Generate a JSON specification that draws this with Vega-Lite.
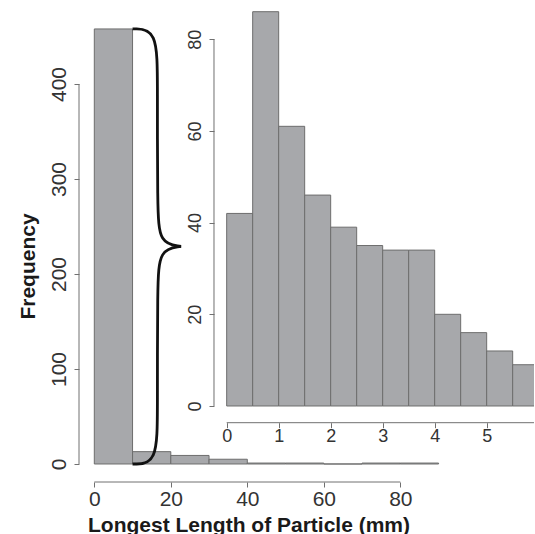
{
  "$schema": "https://vega.github.io/schema/vega-lite/v6.json",
  "padding": {"left": 17, "top": 5, "right": 0, "bottom": 0},
  "background": "white",
  "width": 455,
  "height": 477,
  "config": {
    "view": {"stroke": null},
    "font": "Liberation Sans",
    "axis": {"grid": false, "domain": false, "tickColor": "#707070", "tickSize": 5, "tickWidth": 1, "labelColor": "#333333", "titleColor": "#1a1a1a", "labelFont": "Liberation Sans", "titleFont": "Liberation Sans", "labelFlush": false, "labelOverlap": false}
  },
  "datasets": {
    "main": [
      {"lo": 0, "hi": 10, "count": 458},
      {"lo": 10, "hi": 20, "count": 13},
      {"lo": 20, "hi": 30, "count": 9},
      {"lo": 30, "hi": 40, "count": 5},
      {"lo": 40, "hi": 50, "count": 1},
      {"lo": 50, "hi": 60, "count": 1},
      {"lo": 60, "hi": 70, "count": 0},
      {"lo": 70, "hi": 80, "count": 1},
      {"lo": 80, "hi": 90, "count": 1}
    ],
    "inset": [
      {"lo": 0, "hi": 0.5, "count": 42},
      {"lo": 0.5, "hi": 1, "count": 86},
      {"lo": 1, "hi": 1.5, "count": 61},
      {"lo": 1.5, "hi": 2, "count": 46},
      {"lo": 2, "hi": 2.5, "count": 39},
      {"lo": 2.5, "hi": 3, "count": 35},
      {"lo": 3, "hi": 3.5, "count": 34},
      {"lo": 3.5, "hi": 4, "count": 34},
      {"lo": 4, "hi": 4.5, "count": 20},
      {"lo": 4.5, "hi": 5, "count": 16},
      {"lo": 5, "hi": 5.5, "count": 12},
      {"lo": 5.5, "hi": 6, "count": 9}
    ],
    "brace": [
      {"half": "upper", "i": 0, "x": 10, "y": 458},
      {"half": "upper", "i": 1, "x": 16.5, "y": 458},
      {"half": "upper", "i": 2, "x": 16.5, "y": 400},
      {"half": "upper", "i": 3, "x": 16.5, "y": 270},
      {"half": "upper", "i": 4, "x": 17, "y": 232},
      {"half": "upper", "i": 5, "x": 22.7, "y": 229},
      {"half": "lower", "i": 0, "x": 10, "y": 0},
      {"half": "lower", "i": 1, "x": 16.5, "y": 0},
      {"half": "lower", "i": 2, "x": 16.5, "y": 58},
      {"half": "lower", "i": 3, "x": 16.5, "y": 188},
      {"half": "lower", "i": 4, "x": 17, "y": 226},
      {"half": "lower", "i": 5, "x": 22.7, "y": 229}
    ]
  },
  "resolve": {
    "scale": {"x": "independent", "y": "independent"},
    "axis": {"x": "independent", "y": "independent"}
  },
  "layer": [
    {
      "layer": [
        {
          "data": {"name": "main"},
          "mark": {"type": "rect", "fill": "#a7a8ab", "stroke": "#6d6d6d", "strokeWidth": 1},
          "encoding": {
            "x": {"field": "lo", "type": "quantitative", "title": "Longest Length of Particle (mm)",
                  "scale": {"domain": [-4, 114.95], "nice": false, "zero": false},
                  "axis": {"orient": "bottom", "values": [0, 20, 40, 60, 80], "labelFontSize": 21, "labelPadding": 1, "titleFontSize": 21, "titleFontWeight": "bold", "titlePadding": 5, "titleX": 169.5}},
            "x2": {"field": "hi"},
            "y": {"field": "count", "type": "quantitative", "title": "Frequency",
                  "scale": {"domain": [-18.95, 483.2], "nice": false, "zero": false},
                  "axis": {"orient": "left", "values": [0, 100, 200, 300, 400], "labelAngle": -90, "labelFontSize": 21, "labelPadding": 5, "titleFontSize": 21, "titleFontWeight": "bold", "titlePadding": 10, "titleY": 261}},
            "y2": {"datum": 0}
          }
        },
        {
          "data": {"name": "brace"},
          "mark": {"type": "line", "interpolate": "basis", "color": "#111111", "strokeWidth": 2.8},
          "encoding": {
            "x": {"field": "x", "type": "quantitative", "title": "Longest Length of Particle (mm)"},
            "y": {"field": "y", "type": "quantitative", "title": "Frequency"},
            "detail": {"field": "half"},
            "order": {"field": "i"}
          }
        },
        {
          "data": {"values": [{}]},
          "mark": {"type": "rule", "color": "#707070", "strokeWidth": 1},
          "encoding": {
            "x": {"datum": -4, "title": "Longest Length of Particle (mm)"},
            "y": {"datum": 0, "title": "Frequency"},
            "y2": {"datum": 400}
          }
        },
        {
          "data": {"values": [{}]},
          "mark": {"type": "rule", "color": "#707070", "strokeWidth": 1},
          "encoding": {
            "y": {"datum": -18.95, "title": "Frequency"},
            "x": {"datum": 0, "title": "Longest Length of Particle (mm)"},
            "x2": {"datum": 80}
          }
        }
      ]
    },
    {
      "layer": [
        {
          "data": {"name": "inset"},
          "mark": {"type": "rect", "fill": "#a7a8ab", "stroke": "#6d6d6d", "strokeWidth": 1, "clip": true},
          "encoding": {
            "x": {"field": "lo", "type": "quantitative", "title": null,
                  "scale": {"domain": [-2.84, 5.91], "nice": false, "zero": false},
                  "axis": {"orient": "bottom", "offset": -59.3, "values": [0, 1, 2, 3, 4, 5], "labelFontSize": 18, "labelPadding": 0}},
            "x2": {"field": "hi"},
            "y": {"field": "count", "type": "quantitative", "title": null,
                  "scale": {"domain": [-16.576, 87.459], "nice": false, "zero": false},
                  "axis": {"orient": "left", "offset": -135, "values": [0, 20, 40, 60, 80], "labelAngle": -90, "labelFontSize": 18, "labelPadding": 5}},
            "y2": {"datum": 0}
          }
        },
        {
          "data": {"values": [{}]},
          "mark": {"type": "rule", "color": "#707070", "strokeWidth": 1},
          "encoding": {
            "x": {"datum": -0.244, "title": null},
            "y": {"datum": 0, "title": null},
            "y2": {"datum": 80}
          }
        },
        {
          "data": {"values": [{}]},
          "mark": {"type": "rule", "color": "#707070", "strokeWidth": 1, "clip": true},
          "encoding": {
            "y": {"datum": -3.64, "title": null},
            "x": {"datum": 0, "title": null},
            "x2": {"datum": 6}
          }
        }
      ]
    }
  ]
}
